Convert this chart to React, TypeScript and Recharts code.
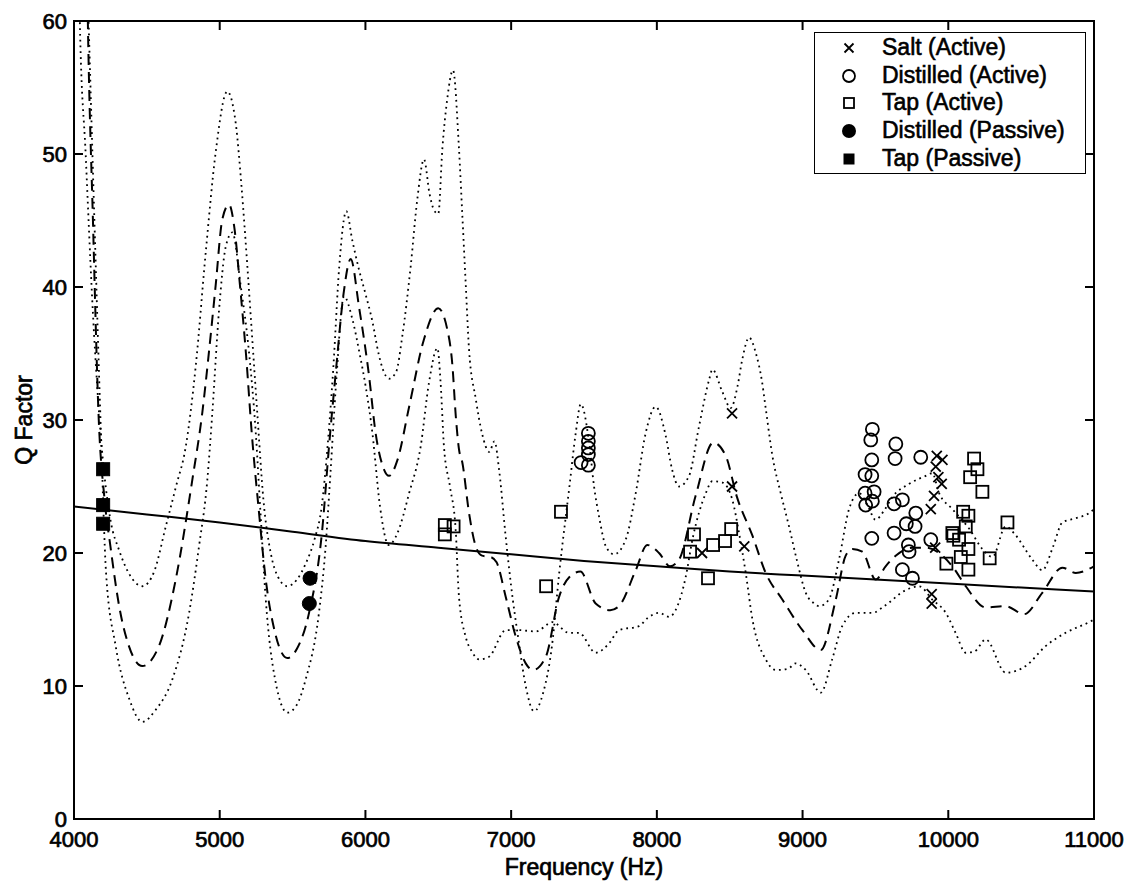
import React from 'react';
import { ComposedChart, Line, Scatter, XAxis, YAxis, Legend } from 'recharts';

const FONT = '"Liberation Sans", Arial, Helvetica, sans-serif';

const xTicks = [4000, 5000, 6000, 7000, 8000, 9000, 10000, 11000];
const yTicks = [0, 10, 20, 30, 40, 50, 60];
const X_DOMAIN = [4000, 11000];
const Y_DOMAIN = [0, 60];
const legendLabels = ['Salt (Active)', 'Distilled (Active)', 'Tap (Active)', 'Distilled (Passive)', 'Tap (Passive)'];
const legendKinds = ['x', 'circle', 'square', 'dot', 'block'];

// solid fitted curve
const fitCurve: number[][] = [
  [4000, 23.5], [4500, 22.9], [5000, 22.3], [5500, 21.6], [6000, 20.9], [6500, 20.4], [7000, 19.9],
  [7500, 19.4], [8000, 19.0], [8500, 18.6], [9000, 18.3], [9500, 18.0], [10000, 17.7], [10500, 17.4], [11000, 17.1],
];

// dashed curve
const meanCurve: number[][] = [
  [4060, 90], [4095, 60], [4130, 45], [4170, 30], [4210, 24], [4250, 20.5], [4310, 16], [4377, 13], [4469, 11.5],
  [4583, 13], [4698, 18], [4812, 25.5], [4881, 30.6], [4926, 35.1], [4972, 40.1], [5018, 45.1], [5064, 46.2],
  [5100, 44.5], [5140, 40], [5180, 35], [5220, 29], [5270, 23], [5316, 18], [5380, 14], [5464, 12.1], [5530, 12.8],
  [5613, 15.5], [5704, 21.8], [5750, 28], [5800, 34], [5850, 39.5], [5899, 42.1], [5956, 38.5], [6025, 33.3],
  [6070, 29], [6120, 26.5], [6162, 25.8], [6220, 27], [6300, 31], [6400, 36], [6500, 38.4], [6562, 36.8],
  [6597, 34.1], [6620, 30.3], [6642, 27.8], [6665, 26.8], [6711, 23], [6757, 20.5], [6800, 19.8], [6860, 19.7],
  [6900, 19.3], [6963, 16.7], [7032, 13.7], [7100, 11.7], [7150, 11.2], [7238, 12.2], [7329, 16.7], [7400, 18.2],
  [7475, 18.6], [7580, 16.2], [7680, 15.7], [7740, 16], [7855, 18.7], [7934, 20.6], [8015, 20], [8090, 19.0],
  [8152, 19.5], [8266, 24.3], [8387, 28.3], [8473, 27.3], [8550, 24.2], [8656, 21.3], [8747, 18.5], [8861, 16.5],
  [8999, 14.2], [9125, 12.7], [9228, 16.5], [9296, 19.8], [9342, 20.3], [9410, 20.1], [9502, 18], [9570, 19],
  [9639, 19.8], [9754, 20.4], [9845, 20.4], [9937, 20], [10028, 19], [10120, 17.5], [10257, 15.9], [10394, 16],
  [10520, 15.4], [10645, 17], [10783, 18.9], [10875, 18.5], [11000, 19],
];

// upper dotted curve
const upperCurve: number[][] = [
  [4000, 90], [4040, 60], [4080, 50], [4130, 38], [4190, 28], [4250, 22.5], [4310, 20.2], [4380, 18.4], [4469, 17.5],
  [4550, 18.6], [4630, 22], [4700, 25], [4767, 28], [4835, 34], [4904, 42.6], [4972, 50.1], [5052, 54.7],
  [5110, 52.3], [5150, 47.5], [5190, 41.5], [5224, 36], [5258, 30.5], [5300, 24], [5350, 20], [5400, 18.2],
  [5464, 17.5], [5530, 18], [5590, 19.2], [5650, 21], [5700, 23.5], [5740, 28], [5780, 34], [5820, 41.5],
  [5869, 45.7], [5910, 43.5], [5956, 41.3], [6000, 39.5], [6048, 37.4], [6090, 35], [6120, 33.8], [6162, 33.1],
  [6210, 33.6], [6253, 36.3], [6311, 41.6], [6356, 46.6], [6402, 49.6], [6440, 47], [6470, 45.8], [6500, 45.5],
  [6528, 50.4], [6560, 54], [6601, 56.3], [6642, 50.4], [6665, 45.4], [6688, 40.3], [6711, 35.3], [6757, 31.6],
  [6800, 29], [6850, 27.6], [6885, 28.4], [6920, 26], [6960, 21.5], [7000, 17.5], [7050, 13.5], [7100, 10],
  [7157, 8.1], [7220, 9.5], [7280, 13], [7330, 18.5], [7400, 25], [7443, 29], [7478, 31.2], [7535, 28.3],
  [7569, 25], [7604, 22.7], [7650, 20.5], [7706, 19.9], [7786, 21], [7855, 24.5], [7923, 29], [7992, 31],
  [8061, 28.8], [8104, 26.3], [8152, 25], [8221, 25.8], [8289, 29.5], [8358, 33], [8381, 33.8], [8450, 32.1],
  [8507, 30.9], [8553, 32.5], [8587, 34.6], [8633, 36.2], [8680, 35], [8720, 33], [8748, 30.8], [8793, 27.3],
  [8850, 24.5], [8907, 22], [8960, 19.5], [9022, 17], [9080, 16.2], [9113, 16], [9180, 16.5], [9250, 19.5],
  [9319, 23.3], [9388, 24.5], [9450, 23.5], [9500, 22.5], [9560, 23.2], [9616, 24.2], [9731, 25.2], [9845, 25.8],
  [9890, 26], [9937, 24.5], [10028, 23.3], [10145, 21.8], [10234, 20.3], [10303, 19.7], [10394, 22], [10450, 21.5],
  [10577, 19.5], [10645, 18.7], [10720, 20.5], [10783, 22.3], [10870, 22.6], [10966, 23], [11000, 23.3],
];

// lower dotted curve
const lowerCurve: number[][] = [
  [4000, 90], [4060, 75], [4100, 60], [4140, 45], [4185, 29], [4220, 18.5], [4286, 13], [4380, 9], [4469, 7.3],
  [4560, 8.2], [4675, 10.5], [4790, 15.5], [4858, 20.5], [4915, 25.5], [4949, 30.5], [4995, 38.2], [5041, 43],
  [5087, 44.1], [5144, 40.1], [5201, 35.1], [5247, 29.1], [5280, 23], [5316, 16.5], [5380, 10.5], [5464, 8.0],
  [5530, 8.6], [5590, 10.5], [5681, 15.5], [5727, 20.5], [5760, 26], [5800, 33], [5853, 39.3], [5910, 37.6],
  [5960, 35], [6002, 32.5], [6048, 29], [6100, 23.5], [6160, 20.6], [6220, 21.5], [6300, 24.5], [6379, 28],
  [6436, 32.8], [6494, 35.4], [6516, 32.8], [6539, 28], [6580, 25], [6619, 21.8], [6642, 16.7], [6688, 13.7],
  [6730, 12.6], [6780, 12.0], [6848, 12.2], [6963, 14.2], [7054, 14.2], [7170, 14.1], [7283, 14.8], [7397, 14.0],
  [7466, 14], [7580, 12.5], [7672, 13.2], [7740, 14.2], [7878, 14.5], [7935, 15.1], [8015, 15.5], [8084, 15.2],
  [8141, 16], [8198, 18.2], [8244, 21], [8336, 24.5], [8381, 25.4], [8450, 25.3], [8518, 24], [8564, 21.5],
  [8610, 18.5], [8656, 15], [8747, 12], [8816, 11.2], [8900, 11.3], [8953, 11.7], [9022, 11.2], [9125, 9.5],
  [9203, 12], [9272, 14.5], [9365, 15.5], [9479, 15.5], [9560, 16], [9707, 17.2], [9800, 17.5], [9890, 16.5],
  [9983, 15.5], [10050, 14], [10120, 12.5], [10180, 12.6], [10257, 13.5], [10394, 11], [10531, 11.5],
  [10668, 13], [10805, 14], [10966, 14.8], [11000, 15],
];

const saltActive: number[][] = [
  [8516, 30.5], [8516, 25.0], [8310, 20.0], [8600, 20.5], [9921, 27.3], [9960, 27.0], [9914, 26.5], [9932, 25.7],
  [9955, 25.2], [9902, 24.3], [9880, 23.3], [9910, 20.4], [9886, 16.9], [9886, 16.2],
];

const distilledActive: number[][] = [
  [7530, 29.0], [7530, 28.4], [7530, 27.9], [7530, 27.4], [7480, 26.8], [7530, 26.6],
  [9479, 29.3], [9468, 28.5], [9475, 27.0], [9429, 25.9], [9475, 25.8], [9429, 24.5], [9491, 24.6], [9433, 23.6],
  [9479, 23.9], [9475, 21.1], [9640, 28.2], [9635, 27.1], [9811, 27.2], [9628, 23.7], [9685, 24.0], [9777, 23.0],
  [9712, 22.2], [9772, 22.0], [9628, 21.5], [9726, 20.6], [9731, 20.1], [9880, 21.0], [9685, 18.75], [9754, 18.1],
];

const tapActive: number[][] = [
  [6545, 22.1], [6605, 22.0], [6545, 21.4], [7342, 23.1], [7240, 17.5], [8255, 21.4], [8228, 20.1], [8386, 20.6],
  [8468, 20.9], [8510, 21.8], [8351, 18.1],
  [10177, 27.1], [10200, 26.3], [10150, 25.7], [10234, 24.6], [10102, 23.1], [10138, 22.8], [10120, 22.0],
  [10028, 21.5], [10035, 21.3], [10074, 21.0], [10138, 20.3], [10086, 19.7], [10284, 19.6], [9987, 19.2],
  [10138, 18.75], [10406, 22.3],
];

const distilledPassive: number[][] = [[5620, 18.1], [5615, 16.2]];
const tapPassive: number[][] = [[4200, 26.3], [4200, 23.6], [4200, 22.2]];

const toPts = (a: number[][]) => a.map(([f, q]) => ({ f, q }));

// layout
const W = 1129;
const H = 882;
const MARGIN = { top: 21, right: 35, bottom: 8, left: 14 };
const Y_AXIS_W = 60;
const X_AXIS_H = 55;
const PLOT_LEFT = MARGIN.left + Y_AXIS_W;
const PLOT_RIGHT = W - MARGIN.right;
const PLOT_TOP = MARGIN.top;
const PLOT_BOTTOM = H - MARGIN.bottom - X_AXIS_H;
const TICK_LEN = 9;

// box frame with inward ticks (MATLAB-style axes box), aligned to the plot area
const px = (f: number) => PLOT_LEFT + ((f - X_DOMAIN[0]) / (X_DOMAIN[1] - X_DOMAIN[0])) * (PLOT_RIGHT - PLOT_LEFT);
const py = (q: number) => PLOT_BOTTOM - ((q - Y_DOMAIN[0]) / (Y_DOMAIN[1] - Y_DOMAIN[0])) * (PLOT_BOTTOM - PLOT_TOP);

const AxesBox = () => (
  <svg width={W} height={H} style={{ position: 'absolute', left: 0, top: 0, pointerEvents: 'none' }}>
    <rect x={PLOT_LEFT} y={PLOT_TOP} width={PLOT_RIGHT - PLOT_LEFT} height={PLOT_BOTTOM - PLOT_TOP}
      fill="none" stroke="#000" strokeWidth={2} />
    {xTicks.map((t) => (
      <g key={`x${t}`}>
        <line x1={px(t)} x2={px(t)} y1={PLOT_BOTTOM} y2={PLOT_BOTTOM - TICK_LEN} stroke="#000" strokeWidth={2} />
        <line x1={px(t)} x2={px(t)} y1={PLOT_TOP} y2={PLOT_TOP + TICK_LEN} stroke="#000" strokeWidth={2} />
      </g>
    ))}
    {yTicks.map((v) => (
      <g key={`y${v}`}>
        <line x1={PLOT_LEFT} x2={PLOT_LEFT + TICK_LEN} y1={py(v)} y2={py(v)} stroke="#000" strokeWidth={2} />
        <line x1={PLOT_RIGHT} x2={PLOT_RIGHT - TICK_LEN} y1={py(v)} y2={py(v)} stroke="#000" strokeWidth={2} />
      </g>
    ))}
  </svg>
);

const textProps = { fill: '#000', stroke: '#000', strokeWidth: 0.7, fontFamily: FONT, fontSize: 22 };

const BottomTick = (p: any) => (
  <text x={p.x} y={PLOT_BOTTOM + 12} dy="0.71em" textAnchor="middle" {...textProps}>{p.payload.value}</text>
);
const LeftTick = (p: any) => (
  <text x={PLOT_LEFT - 7} y={p.y} dy="0.36em" textAnchor="end" {...textProps}>{p.payload.value}</text>
);

const XMark = (props: any) => {
  const { cx, cy } = props;
  const s = 5;
  return (
    <path d={`M${cx - s},${cy - s}L${cx + s},${cy + s}M${cx - s},${cy + s}L${cx + s},${cy - s}`}
      stroke="#000" strokeWidth={1.8} fill="none" />
  );
};
const CircleMark = (props: any) => (
  <circle cx={props.cx} cy={props.cy} r={6.5} fill="none" stroke="#000" strokeWidth={1.8} />
);
const SquareMark = (props: any) => (
  <rect x={props.cx - 6} y={props.cy - 6} width={12} height={12} fill="none" stroke="#000" strokeWidth={1.8} />
);
const DotMark = (props: any) => (
  <circle cx={props.cx} cy={props.cy} r={7} fill="#000" stroke="#000" strokeWidth={1} />
);
const BlockMark = (props: any) => (
  <rect x={props.cx - 6.5} y={props.cy - 6.5} width={13} height={13} fill="#000" stroke="#000" strokeWidth={1} />
);

const legendIcon = (kind: string) => {
  const c = 8;
  switch (kind) {
    case 'x':
      return <path d={`M${c - 4.5},${c - 4.5}L${c + 4.5},${c + 4.5}M${c - 4.5},${c + 4.5}L${c + 4.5},${c - 4.5}`} stroke="#000" strokeWidth={1.8} />;
    case 'circle':
      return <circle cx={c} cy={c} r={6} fill="none" stroke="#000" strokeWidth={1.8} />;
    case 'square':
      return <rect x={c - 5} y={c - 5} width={10} height={10} fill="none" stroke="#000" strokeWidth={1.8} />;
    case 'dot':
      return <circle cx={c} cy={c} r={7} fill="#000" />;
    default:
      return <rect x={c - 5.5} y={c - 5.5} width={11} height={11} fill="#000" />;
  }
};

const LegendBox = () => (
  <div style={{
    width: 272, height: 142, boxSizing: 'border-box', border: '1.5px solid #000', background: '#fff',
    fontFamily: FONT, fontSize: 23, color: '#000', paddingTop: 1, WebkitTextStroke: '0.6px #000',
  }}>
    {legendLabels.map((label, i) => (
      <div key={label} style={{ height: 27.7, position: 'relative' }}>
        <svg width={16} height={16} style={{ position: 'absolute', left: 26, top: 6 }}>{legendIcon(legendKinds[i])}</svg>
        <span style={{ position: 'absolute', left: 67, top: 0, lineHeight: '27.7px', whiteSpace: 'nowrap' }}>{label}</span>
      </div>
    ))}
  </div>
);

const axisLine = { stroke: '#000', strokeWidth: 2 };

export default function App() {
  return (
    <div style={{ position: 'absolute', left: 0, top: 0, width: W, height: H, background: '#fff' }}>
      <ComposedChart width={W} height={H} margin={MARGIN}>
        <XAxis
          type="number" dataKey="f" domain={X_DOMAIN} ticks={xTicks} interval={0}
          allowDataOverflow height={X_AXIS_H} tickSize={0} tickMargin={0}
          axisLine={axisLine} tickLine={false} tick={<BottomTick />}
          label={{
            content: (p: any) => {
              const vb = p.viewBox;
              return (
                <text x={vb.x + vb.width / 2} y={vb.y + 56} textAnchor="middle" {...textProps} fontSize={23}>
                  Frequency (Hz)
                </text>
              );
            },
          }}
        />
        <YAxis
          type="number" dataKey="q" domain={Y_DOMAIN} ticks={yTicks} interval={0}
          allowDataOverflow width={Y_AXIS_W} tickSize={0} tickMargin={0}
          axisLine={axisLine} tickLine={false} tick={<LeftTick />}
          label={{
            content: (p: any) => {
              const vb = p.viewBox;
              const cx = vb.x + 10;
              const cy = vb.y + vb.height / 2;
              return (
                <text x={cx} y={cy} transform={`rotate(-90 ${cx} ${cy})`} textAnchor="middle" dominantBaseline="central"
                  {...textProps} fontSize={23}>
                  Q Factor
                </text>
              );
            },
          }}
        />

        <Line data={toPts(upperCurve)} dataKey="q" type="monotone" stroke="#000"
          strokeWidth={1.8} strokeDasharray="1.8 4" dot={false} activeDot={false} isAnimationActive={false} />
        <Line data={toPts(lowerCurve)} dataKey="q" type="monotone" stroke="#000"
          strokeWidth={1.8} strokeDasharray="1.8 4" dot={false} activeDot={false} isAnimationActive={false} />
        <Line data={toPts(meanCurve)} dataKey="q" type="monotone" stroke="#000"
          strokeWidth={2} strokeDasharray="11 7" dot={false} activeDot={false} isAnimationActive={false} />
        <Line data={toPts(fitCurve)} dataKey="q" type="monotone" stroke="#000"
          strokeWidth={2} dot={false} activeDot={false} isAnimationActive={false} />

        <Scatter data={toPts(saltActive)} shape={XMark} isAnimationActive={false} />
        <Scatter data={toPts(distilledActive)} shape={CircleMark} isAnimationActive={false} />
        <Scatter data={toPts(tapActive)} shape={SquareMark} isAnimationActive={false} />
        <Scatter data={toPts(distilledPassive)} shape={DotMark} isAnimationActive={false} />
        <Scatter data={toPts(tapPassive)} shape={BlockMark} isAnimationActive={false} />

        <Legend
          layout="horizontal" verticalAlign="middle" align="center"
          wrapperStyle={{ left: 814, top: 32, width: 272, height: 142 }}
          content={() => <LegendBox />}
        />
      </ComposedChart>
      <AxesBox />
    </div>
  );
}
